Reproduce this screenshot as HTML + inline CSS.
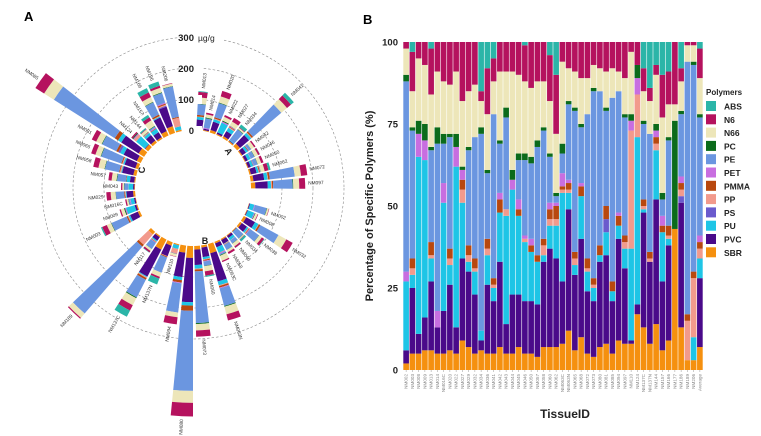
<!DOCTYPE html>
<html><head><meta charset="utf-8">
<style>
html,body{margin:0;padding:0;background:#fff;}
svg{display:block;font-family:"Liberation Sans",Arial,sans-serif;}
</style></head>
<body>
<svg id="fig" width="761" height="436" viewBox="0 0 761 436" xmlns="http://www.w3.org/2000/svg">
<text x="24" y="21" font-size="13" font-weight="bold">A</text>
<text x="363" y="24" font-size="13" font-weight="bold">B</text>
<g id="radial"></g>
<g id="stack"></g>
<g id="legend"></g>
</svg>
<script>
const polymers = ["SBR","PVC","PU","PS","PP","PMMA","PET","PE","PC","N66","N6","ABS"];
const colors = ["#f5900f","#4a0a8a","#1ec5e6","#6a5acd","#f29a8c","#b8480f","#c86ee0","#6b96e0","#0b6b1b","#ede6b9","#b5125e","#2bb5a8"];
const legendOrder = ["ABS","N6","N66","PC","PE","PET","PMMA","PP","PS","PU","PVC","SBR"];
const tissues = ["NM002","NM003","NM008","NM009","NM013","NM014","NM016C","NM020","NM022","NM027","NM029","NM032","NM034","NM036","NM041","NM042","NM043","NM044","NM045","NM046","NM050","NM057","NM058","NM060","NM062","NM063C","NM063N","NM065","NM068","NM072","NM073","NM080","NM081","NM085","NM094","NM097","NM110","NM124","NM137C","NM137N","NM144","NM157","NM166","NM177","NM186","NM189","NM206","Average"];
const SBR  = [2,5,5,6,6,5,5,6,5,9,7,5,6,5,5,7,5,5,7,5,5,4,7,7,7,8,12,6,10,5,4,7,8,5,9,8,8,17,13,8,14,6,9,43,13,3,3,7];
const PVC  = [4,20,6,10,21,8,13,20,8,25,23,18,3,21,16,26,9,18,16,16,16,16,26,30,27,19,37,23,30,19,17,26,27,16,31,23,1,3,35,25,38,21,29,0,38,0,0,21];
const PU   = [21,4,54,48,7,0,33,6,49,17,3,7,3,9,4,15,33,32,24,18,15,13,2,7,10,27,5,3,13,6,4,2,7,3,4,6,28,51,1,0,15,15,2,0,0,0,7,6];
const PS   = [0,0,0,0,0,0,0,0,0,0,0,0,0,0,0,0,0,0,0,0,0,0,0,0,0,0,0,0,0,0,0,0,4,0,0,0,0,0,0,0,0,0,0,0,2,0,0,0];
const PP   = [0,2,0,0,1,0,0,2,0,4,2,1,0,2,1,0,2,0,0,1,0,0,3,2,2,1,1,2,0,1,1,0,0,0,0,2,36,13,1,1,2,0,1,0,2,12,18,3];
const PMMA = [0,3,0,0,4,0,0,3,0,3,3,3,0,3,2,4,0,0,2,0,2,2,2,3,4,1,2,2,3,3,2,3,4,3,3,2,0,0,2,2,2,2,3,0,2,2,2,2];
const PET  = [3,0,7,6,0,5,6,0,6,3,0,0,0,0,0,2,0,3,3,1,2,0,0,2,1,4,1,0,1,0,0,0,0,0,1,0,3,5,0,0,2,3,0,0,2,0,0,2];
const PE   = [58,39,0,0,28,51,12,34,0,0,29,37,60,20,50,15,28,0,12,23,23,33,33,14,2,6,23,43,17,44,57,47,29,56,37,36,0,0,23,36,0,5,26,0,19,77,63,36];
const PC   = [2,1,4,5,1,5,3,1,4,1,1,0,2,1,0,1,3,3,2,2,2,2,1,1,1,3,1,1,1,0,1,0,1,0,0,1,2,4,1,0,2,2,1,33,1,0,1,1];
const N66  = [8,11,19,18,16,17,16,15,19,20,17,16,8,17,10,21,11,30,24,22,21,18,14,16,18,25,10,11,14,11,7,7,11,9,6,11,19,0,9,10,15,23,10,5,9,5,5,11];
const N6   = [2,12,5,7,14,9,12,13,9,18,15,13,3,14,7,9,9,9,10,11,14,12,12,14,18,6,8,9,11,11,7,8,9,8,9,11,3,7,7,4,3,13,10,19,4,1,1,9];
const ABS  = [0,3,0,0,2,0,0,0,0,0,0,0,15,8,5,0,0,0,0,1,0,0,0,4,10,0,0,0,0,0,0,0,0,0,0,0,0,0,8,14,7,10,9,0,8,0,0,2];
const series = [SBR,PVC,PU,PS,PP,PMMA,PET,PE,PC,N66,N6,ABS];
const yTicks = [0,25,50,75,100];

// radial panel data (clockwise from top)
const radialNames = ["NM013","NM014","NM020","NM022","NM027","NM034","NM041","NM042","NM046","NM050","NM062","NM072","NM097",
 "NM002","NM008","NM032","NM038","NM034","NM046","NM058","NM063C","NM063N","NM060","NM073","NM080","NM094","NM110","NM137N","NM137C","NM117","NM189",
 "NM003","NM009","NM016C","NM029","NM043","NM057","NM058","NM065","NM081","NM085","NM124","NM144","NM157","NM166","NM186","NM206"];
const radialTotals = [126,60,140,70,75,70,240,55,55,55,70,184,175,
 68,40,180,97,45,50,55,70,255,103,293,550,256,42,145,280,65,370,
 136,60,35,93,45,87,142,160,175,415,70,60,90,168,174,158];
const radialGroups = ["A","A","A","A","A","A","A","A","A","A","A","A","A",
 "B","B","B","B","B","B","B","B","B","B","B","B","B","B","B","B","B","B",
 "C","C","C","C","C","C","C","C","C","C","C","C","C","C","C","C"];
const ringTicks = [0,100,200,300];

const NS="http://www.w3.org/2000/svg";
function mk(tag,attrs,parent){const e=document.createElementNS(NS,tag);for(const k in attrs)e.setAttribute(k,attrs[k]);parent.appendChild(e);return e;}

// ---------- Panel B ----------
const stack=document.getElementById('stack');
const X0=403,X1=703,Y0=370,Y100=42;
const bw=(X1-X0)/tissues.length;
const yScale=v=>Y0-(v/100)*(Y0-Y100);
const xScale=i=>X0+i*bw;
tissues.forEach((t,i)=>{
  let tot=0; series.forEach(s=>tot+=s[i]);
  let cum=0;
  const g=mk('g',{},stack);
  
  
  series.forEach((s,k)=>{
    const v=s[i]/tot*100; if(v<=0){return;}
    const yTop=yScale(cum+v), yBot=yScale(cum);
    const r=mk('rect',{x:xScale(i)+0.3,y:yTop,width:bw-0.6,height:yBot-yTop,fill:colors[k]},g);
    
    
    cum+=v;
  });
  const lx=xScale(i)+bw/2+1.5, ly=374;
  const tl=mk('text',{x:lx,y:ly,'font-size':'4.6',fill:'#888','text-anchor':'end',transform:`rotate(-90 ${lx} ${ly})`},stack);
  tl.textContent=t;
  
  
  mk('line',{x1:xScale(i)+bw/2,x2:xScale(i)+bw/2,y1:370,y2:372,stroke:'#999','stroke-width':0.5},stack);
});
yTicks.forEach(v=>{
  const t=mk('text',{x:398,y:yScale(v)+3.5,'font-size':'9.5','font-weight':'bold','text-anchor':'end',fill:'#222'},stack);
  t.textContent=v;
  
  
});
{
  const t=mk('text',{x:373,y:206,'font-size':'11','font-weight':'bold','text-anchor':'middle',fill:'#222',transform:'rotate(-90 373 206)'},stack);
  t.textContent='Percentage of Specific Polymers (%)';
  
  
  const x=mk('text',{x:565,y:418,'font-size':'12','font-weight':'bold','text-anchor':'middle',fill:'#222'},stack);
  x.textContent='TissueID';
  
  
}
// legend
const leg=document.getElementById('legend');
{const t=mk('text',{x:706,y:95,'font-size':'8','font-weight':'bold',fill:'#222'},leg);t.textContent='Polymers';
}
legendOrder.forEach((p,j)=>{
  const k=polymers.indexOf(p);
  const y=101+j*13.3;
  const g=mk('g',{},leg);
  
  
  mk('rect',{x:706,y:y,width:10,height:10,fill:colors[k]},g);
  const t=mk('text',{x:724,y:y+8.5,'font-size':'8.5','font-weight':'bold',fill:'#222'},g);
  t.textContent=p;
});

// ---------- Panel A ----------
const rad=document.getElementById('radial');
const CX=193,CY=188,R0=58,RS=31/100;
const step=6.8, startA=6, wA=5.6;
function pt(r,a){const t=a*Math.PI/180;return [CX+r*Math.sin(t),CY-r*Math.cos(t)];}
function sector(r1,r2,a1,a2){
  const p1=pt(r1,a1),p2=pt(r2,a1),p3=pt(r2,a2),p4=pt(r1,a2);
  return `M${p1[0]},${p1[1]}L${p2[0]},${p2[1]}A${r2},${r2} 0 0 1 ${p3[0]},${p3[1]}L${p4[0]},${p4[1]}A${r1},${r1} 0 0 0 ${p1[0]},${p1[1]}Z`;
}
ringTicks.forEach(v=>{
  if(v>0){const c=mk('circle',{cx:CX,cy:CY,r:R0+v*RS,fill:'none',stroke:'#888','stroke-width':0.6,'stroke-dasharray':'2.5,2'},rad);
  }
});
let slot=0,prev=null;
radialNames.forEach((n,i)=>{
  if(prev!==null && radialGroups[i]!==prev) slot+=2;
  prev=radialGroups[i];
  const a=startA+slot*step; slot++;
  let idx=tissues.indexOf(n); if(idx<0) idx=tissues.length-1;
  let tot=0; series.forEach(s=>tot+=s[idx]);
  const g=mk('g',{},rad);
  
  
  let cum=0;const L=radialTotals[i]*RS;
  series.forEach((s,k)=>{
    const v=s[idx]/tot*L; if(v<=0)return;
    const p=mk('path',{d:sector(R0+cum,R0+cum+v,a-wA/2,a+wA/2),fill:colors[k]},g);
    
    
    cum+=v;
  });
  const lp=pt(R0+L+3,a);
  let rot=a-90, anchor='start';
  if(a>180){rot=a+90;anchor='end';}
  const t=mk('text',{x:lp[0],y:lp[1]+1.5,'font-size':'4.8',fill:'#333','text-anchor':anchor,transform:`rotate(${rot} ${lp[0]} ${lp[1]})`},rad);
  t.textContent=n;
  
  
});
ringTicks.forEach(v=>{
  const y=CY-R0-v*RS+4;
  mk('rect',{x:CX-(v===300?13:9),y:y-8,width:v===300?44:18,height:9,fill:'#fff'},rad);
  const t=mk('text',{x:CX+1,y:y,'font-size':'9.5','font-weight':'bold','text-anchor':'end',fill:'#222'},rad);
  t.textContent=v;
  
  
  if(v===300){const u=mk('text',{x:CX+5,y:y,'font-size':'8.5',fill:'#222'},rad);u.textContent='µg/g';
  }
});
[["A",226,153,60],["B",205,244,0],["C",145,170,-90]].forEach(([s,x,y,r])=>{
  const t=mk('text',{x:x,y:y,'font-size':'9','font-weight':'bold','text-anchor':'middle',transform:`rotate(${r} ${x} ${y})`,fill:'#222'},rad);
  t.textContent=s;
  
  
});
</script>
</body></html>
